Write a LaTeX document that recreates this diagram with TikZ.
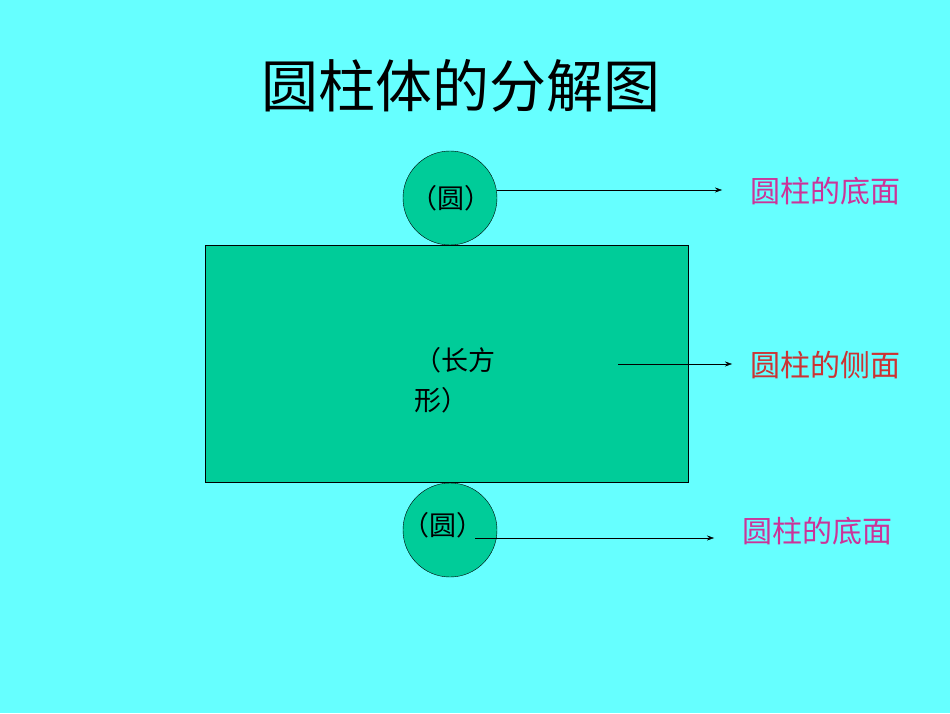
\documentclass[tikz,border=0pt]{standalone}
\usepackage{fontspec}
\newfontfamily\cjk{Noto Sans CJK SC}
\usetikzlibrary{arrows.meta}
\definecolor{bg}{HTML}{66FFFF}
\definecolor{rectc}{HTML}{00CC99}
\definecolor{pinkc}{HTML}{CC3399}
\definecolor{redc}{HTML}{CC3333}
\tikzset{disc/.style={circle,draw=black,fill=rectc,minimum size=94pt,inner sep=0pt},
lab/.style={font=\cjk\fontsize{30}{34}\selectfont,inner sep=0pt},
small/.style={font=\cjk\fontsize{27}{40}\selectfont,inner sep=0pt},
arr/.style={-{Stealth[length=7pt,width=5pt]},black,thin}}
\begin{document}
\begin{tikzpicture}[x=1pt,y=1pt]
\fill[bg] (0,0) rectangle (950,713);
\useasboundingbox (0,0) rectangle (950,713);
\node[lab,font=\cjk\fontsize{57}{60}\selectfont] (title) at (461,627) {圆柱体的分解图};
\node[draw=black,fill=rectc,minimum width=483pt,minimum height=237pt,anchor=north west] (rect) at (205,468) {};
\node[disc] (c1) at (450,515) {};
\node[disc] (c2) at (450,183) {};
\node[small] (t1) at (451,515) {（圆）};
\node[small] (t2) at (443,188) {（圆）};
\node[small,align=left,anchor=north west] (t3) at (414,366) {（长方\\形）};
\node[lab,text=pinkc] (l1) at (825,522) {圆柱的底面};
\node[lab,text=redc] (l2) at (825,348) {圆柱的侧面};
\node[lab,text=pinkc] (l3) at (817,182) {圆柱的底面};
\coordinate (a1) at (497,523);
\coordinate (a2) at (618,349);
\coordinate (a3) at (475,175);
\draw[arr] (a1) -- (a1 -| 722,0);
\draw[arr] (a2) -- (a2 -| 732,0);
\draw[arr] (a3) -- (a3 -| 714,0);
\end{tikzpicture}
\end{document}
